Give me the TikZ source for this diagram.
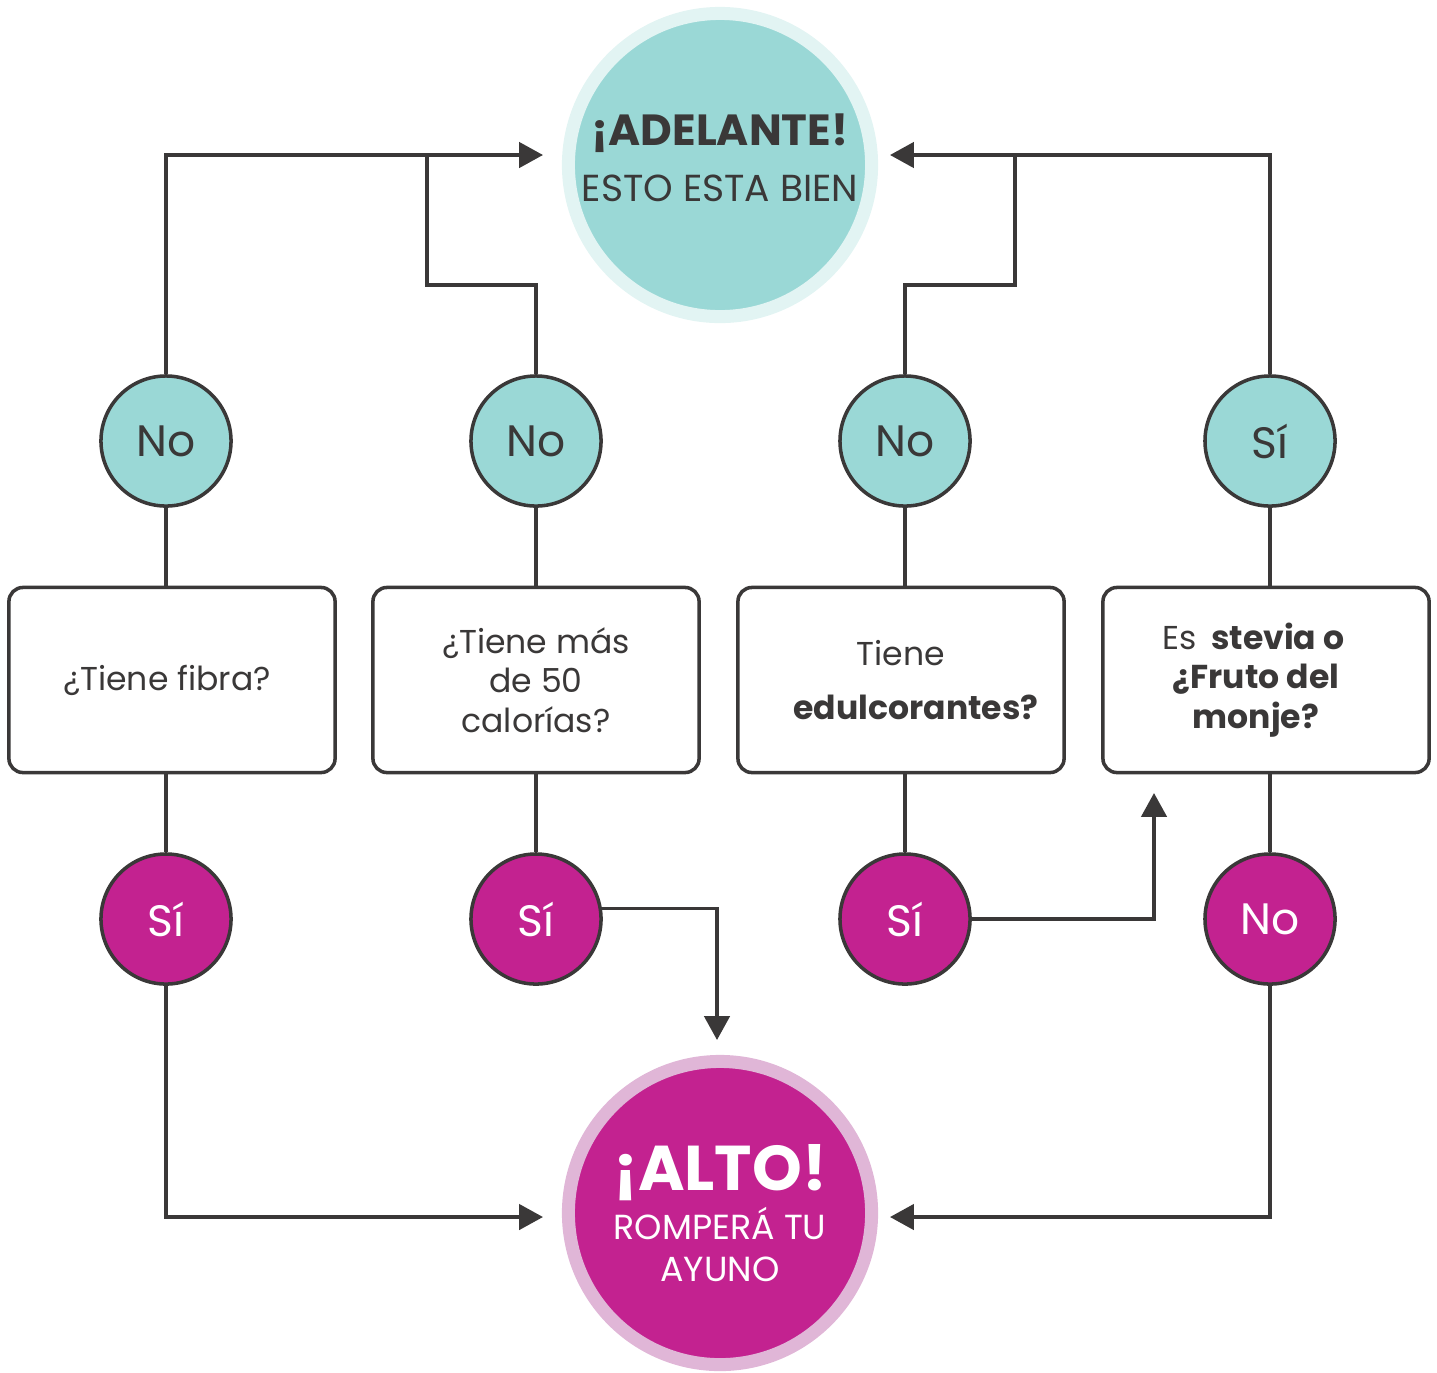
\documentclass[tikz,border=0pt]{standalone}
\usepackage{fontspec}
\setmainfont{Poppins}
\usetikzlibrary{arrows.meta}
\definecolor{ink}{HTML}{3A3838}
\definecolor{sea}{HTML}{9AD8D6}
\definecolor{seapale}{HTML}{E2F4F3}
\definecolor{berry}{HTML}{C32290}
\definecolor{berrypale}{HTML}{E0B6D7}
\pgfdeclarelayer{edgelayer}
\pgfdeclarelayer{nodelayer}
\pgfsetlayers{edgelayer,nodelayer,main}
\tikzstyle{edge}=[draw=ink, line width=1pt]
\tikzstyle{arrow}=[edge, -{Triangle[length=6.8pt,width=7.2pt]}]
\tikzstyle{seadot}=[circle, fill=sea, draw=ink, line width=1pt, minimum size=1.3cm, inner sep=0pt, text=ink, font=\fontsize{12.5}{15}\selectfont]
\tikzstyle{berrydot}=[seadot, fill=berry, text=white]
\tikzstyle{question}=[rectangle, rounded corners=4pt, fill=white, draw=ink, line width=1pt, minimum width=3.26cm, minimum height=1.85cm, align=center, text=ink, font=\fontsize{9.4}{11.2}\selectfont]
\tikzstyle{goal}=[circle, minimum size=3.03cm, line width=3.7pt, inner sep=0pt, align=center]

\begin{document}
\begin{tikzpicture}[x=0.01cm, y=-0.01cm]
				\useasboundingbox (0, 0) rectangle (1437, 1372);
				\begin{pgfonlayer}{nodelayer}
					\node [style=goal, fill=sea, draw=seapale, label={[text=ink, align=center, yshift=2pt]center:{\fontsize{12.4}{15}\selectfont\bfseries ¡ADELANTE!}\\[4pt]{\fontsize{10.7}{13}\selectfont ESTO ESTA BIEN}}] (12) at (720, 165) {};
					\node [style=goal, fill=berry, draw=berrypale, text=white] (13) at (720, 1213) {\fontsize{18}{20}\selectfont\bfseries ¡ALTO!\\[1pt]\fontsize{9.9}{11.5}\selectfont ROMPERÁ TU\\\fontsize{9.9}{11.5}\selectfont AYUNO};
					\node [style=seadot] (0) at (166, 441) {No};
					\node [style=seadot] (1) at (536, 441) {No};
					\node [style=seadot] (2) at (905, 441) {No};
					\node [style=seadot] (3) at (1270, 441) {Sí};
					\node [style=berrydot] (4) at (166, 919) {Sí};
					\node [style=berrydot] (5) at (536, 919) {Sí};
					\node [style=berrydot] (6) at (905, 919) {Sí};
					\node [style=berrydot] (7) at (1270, 919) {No};
					\node [style=question] (8) at (172, 680) {¿Tiene fibra?\hspace*{0.1cm}};
					\node [style=question] (9) at (536, 680) {¿Tiene más\\de 50\\calorías?};
					\node [style=question] (10) at (901, 680) {Tiene\\[4pt]\hspace*{0.3cm}\bfseries edulcorantes?};
					\node [style=question] (11) at (1266, 680) {Es\, \textbf{stevia o}\hspace*{0.25cm}\mbox{}\\\textbf{¿Fruto del}\hspace*{0.2cm}\mbox{}\\\textbf{monje?}\hspace*{0.2cm}\mbox{}};
				\end{pgfonlayer}
				\begin{pgfonlayer}{edgelayer}
					\coordinate (a1) at (543, 155);
					\coordinate (a2) at (890, 155);
					\coordinate (a3) at (717, 1040);
					\coordinate (a4) at (1154, 793);
					\coordinate (a5) at (543, 1217);
					\coordinate (a6) at (890, 1217);
					\coordinate (j1) at (427, 155);
					\coordinate (j2) at (1015, 155);
					\draw [style=edge] (0) -- (0 |- 8.north);
					\draw [style=edge] (1) -- (1 |- 9.north);
					\draw [style=edge] (2) -- (2 |- 10.north);
					\draw [style=edge] (3) -- (3 |- 11.north);
					\draw [style=edge] (4 |- 8.south) -- (4);
					\draw [style=edge] (5 |- 9.south) -- (5);
					\draw [style=edge] (6 |- 10.south) -- (6);
					\draw [style=edge] (7 |- 11.south) -- (7);
					\draw [style=arrow] (0) |- (a1);
					\draw [style=edge] (1) -- ++(0, -156) -| (j1);
					\draw [style=arrow] (3) |- (a2);
					\draw [style=edge] (2) -- ++(0, -156) -| (j2);
					\draw [style=arrow] (4) |- (a5);
					\draw [style=arrow] (5.9) -| (a3);
					\draw [style=arrow] (6) -| (a4);
					\draw [style=arrow] (7) |- (a6);
				\end{pgfonlayer}
			\end{tikzpicture}
\end{document}
